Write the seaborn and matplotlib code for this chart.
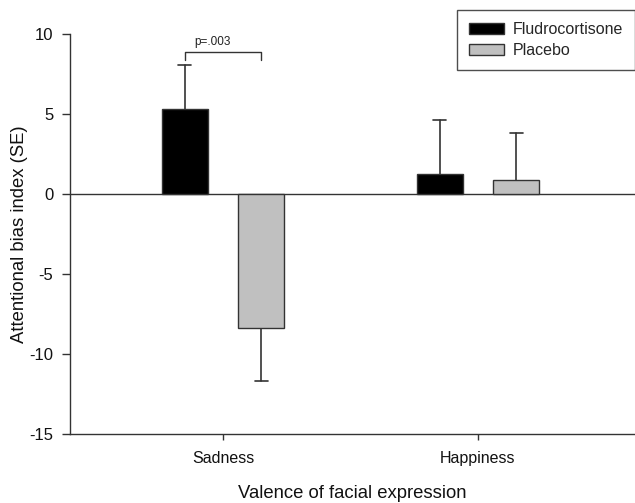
import matplotlib
matplotlib.use("Agg")
import matplotlib.pyplot as plt
import seaborn as sns
import pandas as pd
import numpy as np

# Attentional bias index by valence and treatment
valences = ["Sadness", "Happiness"]
treatments = ["Fludrocortisone", "Placebo"]
fludro_mean = [5.3, 1.25]
placebo_mean = [-8.4, 0.9]
fludro_se = [2.75, 3.35]
placebo_se = [3.3, 2.9]
y_ticks = [-15, -10, -5, 0, 5, 10]

df = pd.DataFrame({
    "valence": valences * 2,
    "treatment": [treatments[0]] * 2 + [treatments[1]] * 2,
    "bias": fludro_mean + placebo_mean,
    "se": fludro_se + placebo_se,
})

sns.set_style("ticks")
plt.rcParams["font.family"] = ["Liberation Sans", "DejaVu Sans"]

fig = plt.figure(figsize=(6.35, 5.03), dpi=100)
ax = fig.add_axes([70 / 635, 69 / 503, 1 - 70 / 635, 400 / 503])

palette = {"Fludrocortisone": "#000000", "Placebo": "#c0c0c0"}
sns.barplot(data=df, x="valence", y="bias", hue="treatment", order=valences,
            hue_order=treatments, palette=palette, width=0.6, gap=0.4,
            edgecolor="#333333", linewidth=1.0, errorbar=None, ax=ax,
            saturation=1, zorder=2)

# One-sided standard-error whiskers, pointing away from zero
cap_half = 0.026
for container, trt in zip(ax.containers, treatments):
    sub = df[df["treatment"] == trt].set_index("valence").loc[valences]
    for bar, mean, se in zip(container, sub["bias"], sub["se"]):
        xc = bar.get_x() + bar.get_width() / 2
        tip = mean + se if mean >= 0 else mean - se
        ax.plot([xc, xc], [mean, tip], color="#333333", linewidth=1.2,
                zorder=1)
        ax.plot([xc - cap_half, xc + cap_half], [tip, tip], color="#333333",
                linewidth=1.2, zorder=1)

# Zero reference line
ax.axhline(0, color="#333333", linewidth=1.0, zorder=0)

# Significance bracket over the Sadness pair
b1 = ax.containers[0][0]
b2 = ax.containers[1][0]
x1 = b1.get_x() + b1.get_width() / 2
x2 = b2.get_x() + b2.get_width() / 2
yb = 8.9
ax.plot([x1, x1, x2, x2], [yb - 0.55, yb, yb, yb - 0.55], color="#333333",
        linewidth=1.0)
ax.text(x1 + (x2 - x1) * 0.36, yb + 0.25, "p=.003", ha="center",
        va="bottom", fontsize=8.5, color="#222222")

ax.set_xlim(-0.6, 1.616)
ax.set_ylim(-15, 10)
ax.set_yticks(y_ticks)
ax.set_yticklabels([str(t) for t in y_ticks])
ax.tick_params(axis="y", labelsize=12, length=6, width=1, color="#333333",
               labelcolor="#111111", pad=6)
ax.tick_params(axis="x", labelsize=11.5, length=4, width=1, color="#333333",
               labelcolor="#111111", pad=8)
ax.set_xlabel("Valence of facial expression", fontsize=13.3, labelpad=14,
              color="#111111")
ax.set_ylabel("Attentional bias index (SE)", fontsize=13.3, labelpad=1,
              color="#111111")
for side in ["top", "right"]:
    ax.spines[side].set_visible(False)
for side in ["left", "bottom"]:
    ax.spines[side].set_color("#333333")
    ax.spines[side].set_linewidth(1.0)

leg = ax.legend(loc="upper right", bbox_to_anchor=(1.0, 1.06), frameon=True,
                fancybox=False, edgecolor="#222222", fontsize=11.5,
                handlelength=2.2, handleheight=0.65, borderpad=0.75,
                labelspacing=0.4, handletextpad=0.55, borderaxespad=0.0)
leg.get_frame().set_linewidth(1.0)

fig.savefig("out.png", dpi=100)
